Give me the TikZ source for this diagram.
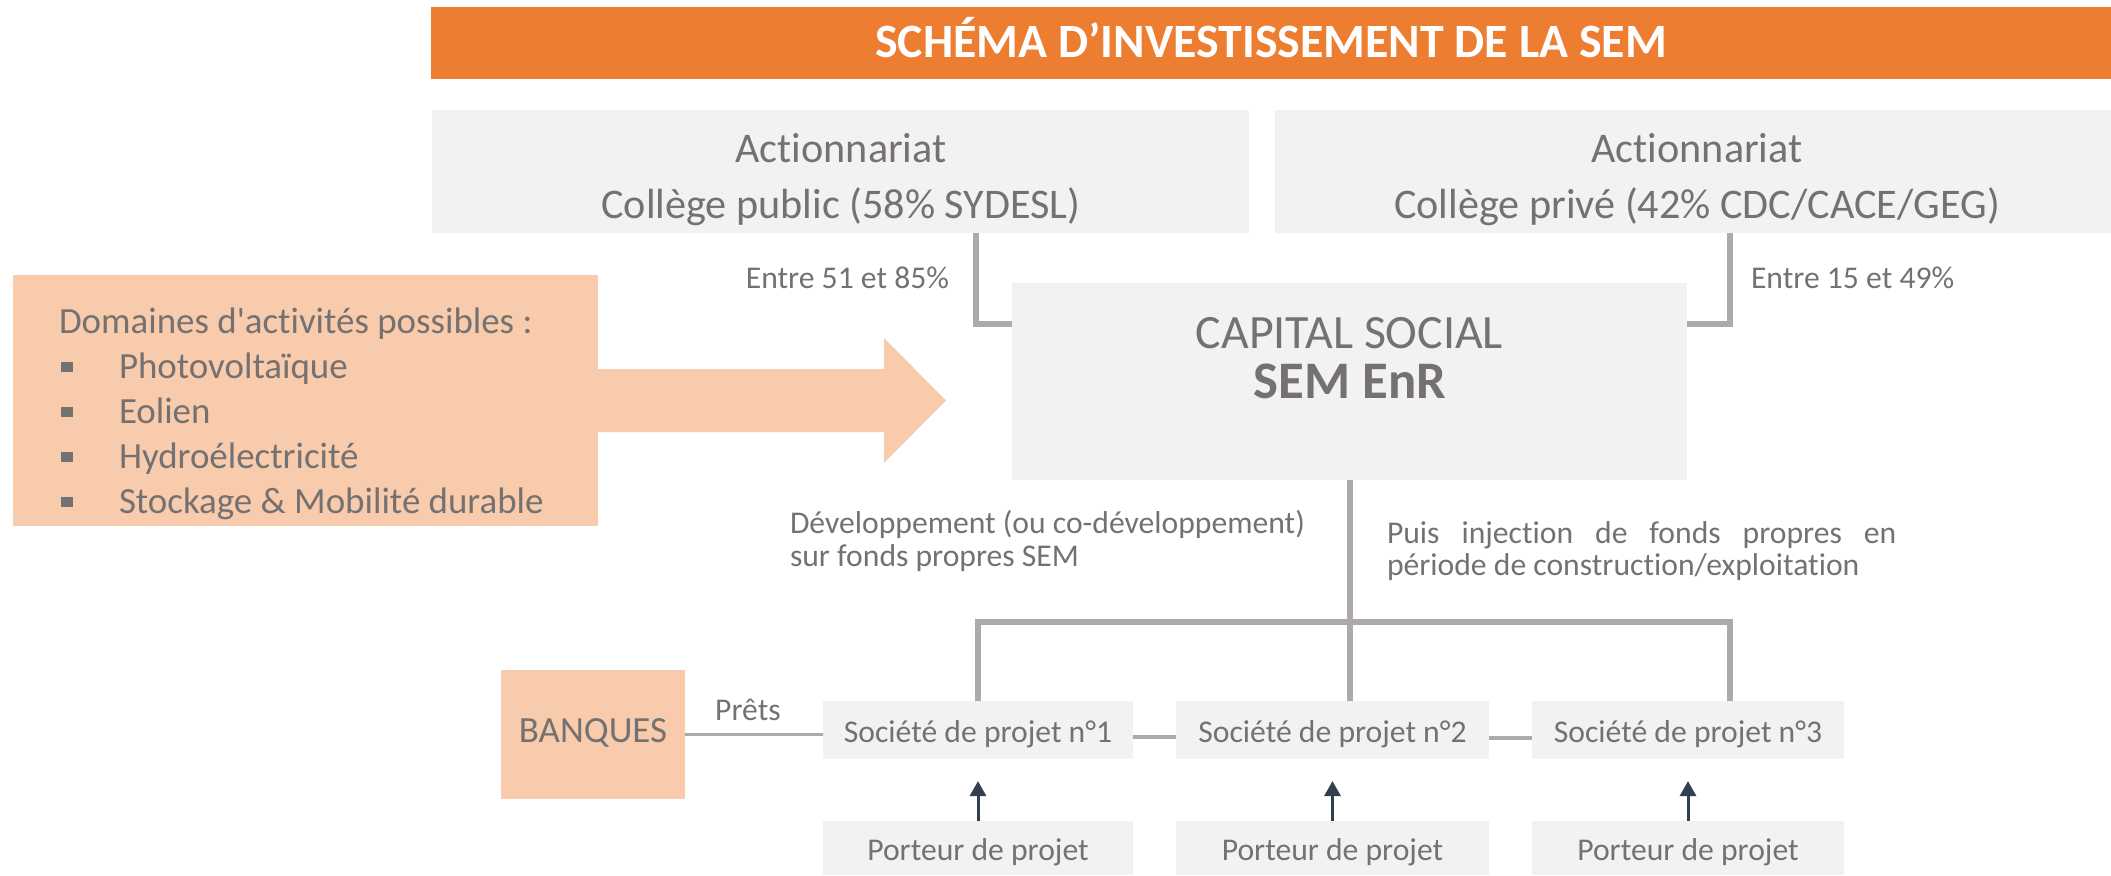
\documentclass[tikz,border=0pt]{standalone}
\usepackage{fontspec}
\setmainfont{Carlito}[Ligatures={TeXOff,NoCommon}]
\usetikzlibrary{arrows.meta}
\definecolor{orangebar}{HTML}{ED7D31}
\definecolor{peach}{HTML}{F8CBAD}
\definecolor{boxgray}{HTML}{F2F2F2}
\definecolor{txtgray}{HTML}{767171}
\definecolor{linegray}{HTML}{AEAAAA}
\definecolor{navyarrow}{HTML}{333F50}
\begin{document}
\begin{tikzpicture}[x=0.01cm,y=-0.01cm,
  plainbox/.style={draw=none, inner sep=0pt, outer sep=0pt},
  graybox/.style={plainbox, fill=boxgray},
  peachbox/.style={plainbox, fill=peach},
  txt/.style={text=txtgray, inner sep=0pt, outer sep=0pt},
  smalltxt/.style={txt, font=\fontsize{9}{11}\selectfont},
  bigtxt/.style={txt, font=\fontsize{12}{14}\selectfont},
  domtxt/.style={txt, font=\fontsize{10.5}{12.5}\selectfont, anchor=base west},
  projbox/.style={graybox, text=txtgray, font=\fontsize{9}{11}\selectfont,
    minimum height=0.58cm, text height=0.31cm, text depth=0.07cm},
  portbox/.style={projbox, minimum height=0.54cm},
  bulletsq/.style={plainbox, fill=txtgray, minimum width=0.11cm, minimum height=0.10cm},
  conn/.style={draw=linegray, line width=0.06cm, line join=miter},
  thinconn/.style={draw=linegray, line width=0.035cm},
  uparrow/.style={draw=navyarrow, line width=0.03cm,
    -{Triangle[width=0.16cm,length=0.15cm]}, shorten >=0.22cm}
]
\useasboundingbox (0,0) rectangle (2111,875);

% title bar
\node[plainbox, fill=orangebar, minimum width=16.80cm, minimum height=0.72cm] (bar) at (1271,43) {};
\node[inner sep=0pt, anchor=base, text=white, font=\bfseries\fontsize{13.6}{16}\selectfont] (title) at (1271,57) {SCHÉMA D’INVESTISSEMENT DE LA SEM};

% shareholder boxes
\node[graybox, minimum width=8.17cm, minimum height=1.23cm] (pub) at (840.5,171.5) {};
\node[bigtxt, anchor=base] (pubA) at (841,162) {Actionnariat};
\node[bigtxt, anchor=base] (pubB) at (841,218) {Collège public (58\% SYDESL)};

\node[graybox, minimum width=8.36cm, minimum height=1.23cm] (priv) at (1693,171.5) {};
\node[bigtxt, anchor=base] (privA) at (1697,162) {Actionnariat};
\node[bigtxt, anchor=base] (privB) at (1697,218) {Collège privé (42\% CDC/CACE/GEG)};

% capital social
\node[graybox, minimum width=6.75cm, minimum height=1.97cm] (cap) at (1349.5,381.5) {};
\node[txt, anchor=base, font=\fontsize{13.6}{16}\selectfont] (capA) at (1349.5,348) {CAPITAL SOCIAL};
\node[txt, anchor=base, font=\bfseries\fontsize{15}{18}\selectfont] (capB) at (1350,398) {SEM EnR};

% percentages
\node[smalltxt, anchor=base east] (pct1) at (949,288) {Entre 51 et 85\%};
\node[smalltxt, anchor=base west] (pct2) at (1751,288) {Entre 15 et 49\%};

\coordinate (jl) at (976,324);
\coordinate (jr) at (1730,324);
\draw[conn] (jl |- pub.south) -- (jl) -- (jl -| cap.west);
\draw[conn] (jr |- priv.south) -- (jr) -- (jr -| cap.east);

% activity domains box and arrow
\fill[peach] (590,369) -- (884,369) -- (884,338) -- (946,400.5) -- (884,463) -- (884,432) -- (590,432) -- cycle;
\node[peachbox, minimum width=5.85cm, minimum height=2.51cm] (dom) at (305.5,400.5) {};
\node[domtxt] (domT) at (59,333) {Domaines d'activités possibles :};
\node[domtxt] (dom1) at (119,378) {Photovoltaïque};
\node[domtxt] (dom2) at (119,423) {Eolien};
\node[domtxt] (dom3) at (119,468) {Hydroélectricité};
\node[domtxt] (dom4) at (119,513) {Stockage \& Mobilité durable};
\node[bulletsq] (b1) at (67,367) {};
\node[bulletsq] (b2) at (67,412) {};
\node[bulletsq] (b3) at (67,457) {};
\node[bulletsq] (b4) at (67,502) {};

% middle labels
\node[smalltxt, anchor=base west] (devA) at (790,533) {Développement (ou co-développement)};
\node[smalltxt, anchor=base west] (devB) at (790,566) {sur fonds propres SEM};
\node[smalltxt, anchor=base west] (injA) at (1387,543) {\makebox[5.09cm][s]{Puis injection de fonds propres en}};
\node[smalltxt, anchor=base west] (injB) at (1387,575) {période de construction/exploitation};

% project companies
\node[projbox, minimum width=3.10cm] (s1) at (978,730) {Société de projet n°1};
\node[projbox, minimum width=3.13cm] (s2) at (1332.5,730) {Société de projet n°2};
\node[projbox, minimum width=3.12cm] (s3) at (1688,730) {Société de projet n°3};

\node[portbox, minimum width=3.10cm] (p1) at (978,848) {Porteur de projet};
\node[portbox, minimum width=3.13cm] (p2) at (1332.5,848) {Porteur de projet};
\node[portbox, minimum width=3.12cm] (p3) at (1688,848) {Porteur de projet};

% tree
\coordinate (treebar) at (1349,622);
\draw[conn] (cap.south) -- (cap.south |- s2.north);
\draw[conn] (s1.north) |- (jr |- treebar) -- (jr |- s3.north);

% links between companies
\draw[thinconn] ([yshift=-0.07cm]s1.east) -- ([yshift=-0.07cm]s2.west);
\draw[thinconn] ([yshift=-0.08cm]s2.east) -- ([yshift=-0.08cm]s3.west);

% banks
\node[peachbox, minimum width=1.84cm, minimum height=1.29cm, text=txtgray,
  font=\fontsize{10.5}{12.5}\selectfont, text height=0.24cm, text depth=0.09cm] (bq) at (593,734.5) {BANQUES};
\draw[thinconn] (bq.east) -- (bq.east -| s1.west);
\node[smalltxt, anchor=base] (prets) at (748,720) {Prêts};

% arrows from project holders
\draw[uparrow] (p1.north) -- (s1.south);
\draw[uparrow] (p2.north) -- (s2.south);
\draw[uparrow] (p3.north) -- (s3.south);
\end{tikzpicture}
\end{document}
